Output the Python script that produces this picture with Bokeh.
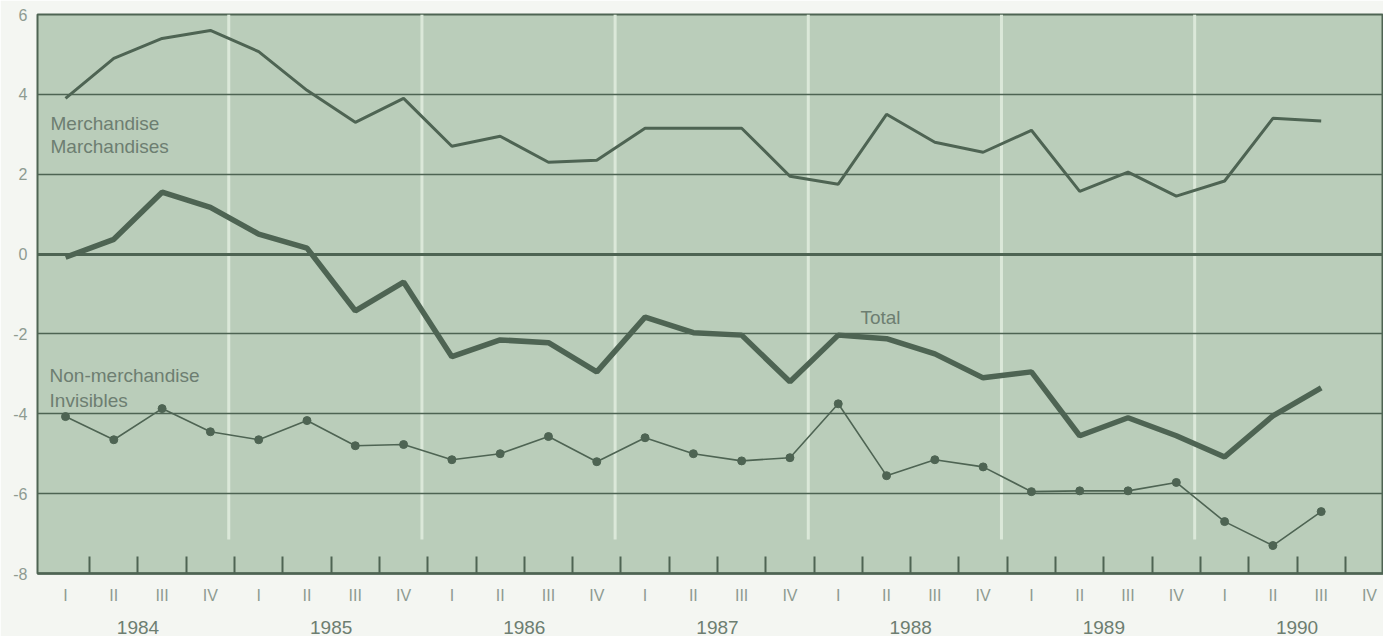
from bokeh.plotting import figure
from bokeh.models import Range1d, FixedTicker, LinearAxis, Grid, Label
from bokeh.embed import file_html
from bokeh.resources import INLINE

# ---- data -------------------------------------------------------------
years = ["1984", "1985", "1986", "1987", "1988", "1989", "1990"]
quarter_names = ["I", "II", "III", "IV"]
y_ticks = [-8, -6, -4, -2, 0, 2, 4, 6]

merchandise = [3.9, 4.9, 5.4, 5.6, 5.07, 4.1, 3.3, 3.9,
               2.7, 2.95, 2.3, 2.35, 3.15, 3.15, 3.15, 1.95,
               1.75, 3.5, 2.8, 2.55, 3.1, 1.57, 2.05, 1.45,
               1.83, 3.4, 3.33]
total = [-0.08, 0.37, 1.55, 1.17, 0.5, 0.15, -1.42, -0.7,
         -2.57, -2.15, -2.22, -2.95, -1.58, -1.97, -2.03, -3.2,
         -2.03, -2.12, -2.5, -3.1, -2.95, -4.55, -4.1, -4.55,
         -5.08, -4.05, -3.35]
non_merchandise = [-4.07, -4.65, -3.87, -4.45, -4.65, -4.17, -4.8, -4.77,
                   -5.15, -5.0, -4.57, -5.2, -4.6, -5.0, -5.18, -5.1,
                   -3.75, -5.55, -5.15, -5.33, -5.95, -5.93, -5.93, -5.72,
                   -6.7, -7.3, -6.45]

# ---- styles -----------------------------------------------------------
DARK = "#4e6453"
BG = "#bacdba"
PAGE = "#f4f6f2"
WHITE_LINE = "#dbe8d9"
TEXT = "#6d7e71"
TICK_TEXT = "#8e9b91"
FONT = "Liberation Sans"

n_q = len(years) * len(quarter_names)
xq = list(range(len(merchandise)))

p = figure(width=1383, height=636,
           x_range=Range1d(-0.58, 27.29), y_range=Range1d(-8, 6),
           output_backend="svg", toolbar_location=None,
           background_fill_color=BG, border_fill_color=PAGE,
           min_border_left=37, min_border_top=14,
           min_border_right=0, min_border_bottom=0)

p.outline_line_color = DARK
p.outline_line_width = 2

# year separator white lines (behind grid)
bounds = [4 * k - 0.5 - 0.12 for k in range(1, len(years))]
p.segment(x0=bounds, y0=[-7.15] * len(bounds), x1=bounds, y1=[6] * len(bounds),
          line_color=WHITE_LINE, line_width=3, level="image")

# horizontal grid
p.xgrid.grid_line_color = None
p.ygrid.ticker = FixedTicker(ticks=[t for t in y_ticks if t not in (0, -8, 6)])
p.ygrid.grid_line_color = DARK
p.ygrid.grid_line_width = 1.6
zero_grid = Grid(dimension=1, ticker=FixedTicker(ticks=[0]),
                 grid_line_color=DARK, grid_line_width=3.2)
p.add_layout(zero_grid)

# y axis
ya = p.yaxis[0]
ya.ticker = FixedTicker(ticks=y_ticks)
ya.major_label_overrides = {t: str(t) for t in y_ticks}
ya.axis_line_color = None
ya.major_tick_line_color = None
ya.minor_tick_line_color = None
ya.major_tick_in = 0
ya.major_tick_out = 0
ya.major_label_standoff = 10
ya.major_label_text_font = FONT
ya.major_label_text_font_size = "16px"
ya.major_label_text_color = TICK_TEXT

# quarter axis
xa = p.xaxis[0]
xa.ticker = FixedTicker(ticks=list(range(n_q)),
                        minor_ticks=[k + 0.5 for k in range(n_q - 1)])
xa.major_label_overrides = {i: quarter_names[i % 4] for i in range(n_q)}
xa.axis_line_color = DARK
xa.axis_line_width = 2.5
xa.major_tick_line_color = None
xa.major_tick_in = 0
xa.major_tick_out = 0
xa.minor_tick_line_color = DARK
xa.minor_tick_line_width = 2
xa.minor_tick_in = 17
xa.minor_tick_out = 0
xa.major_label_standoff = 13
xa.major_label_text_font = FONT
xa.major_label_text_font_size = "16px"
xa.major_label_text_color = TICK_TEXT

# year axis
year_pos = [4 * k + 1.5 for k in range(len(years))]
yr = LinearAxis(ticker=FixedTicker(ticks=year_pos),
                major_label_overrides={pos: y for pos, y in zip(year_pos, years)},
                axis_line_color=None, major_tick_line_color=None,
                minor_tick_line_color=None, major_tick_in=0, major_tick_out=0,
                major_label_standoff=14,
                major_label_text_font=FONT, major_label_text_font_size="19px",
                major_label_text_color=TEXT)
p.add_layout(yr, "below")

# series
p.line(xq, merchandise, line_color=DARK, line_width=3)
p.line(xq, total, line_color=DARK, line_width=5.5)
p.line(xq, non_merchandise, line_color=DARK, line_width=1.6)
p.scatter(xq, non_merchandise, size=8, fill_color=DARK, line_color=DARK)

# series labels
labels = [("Merchandise", -0.31, 3.27), ("Marchandises", -0.31, 2.69),
          ("Non-merchandise", -0.33, -3.04), ("Invisibles", -0.33, -3.67),
          ("Total", 16.46, -1.59)]
for txt, lx, ly in labels:
    p.add_layout(Label(x=lx, y=ly, text=txt, text_font=FONT,
                       text_font_size="19px", text_color=TEXT,
                       text_baseline="alphabetic"))

open("out.html", "w").write(file_html(p, INLINE))
